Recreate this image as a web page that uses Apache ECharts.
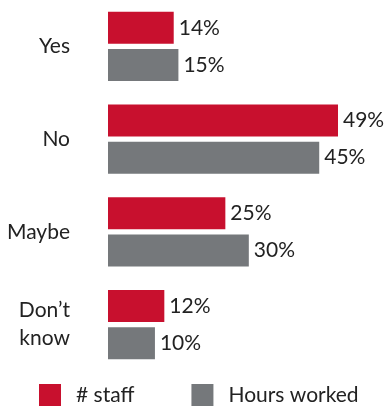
<!DOCTYPE html>
<html>
<head>
<meta charset="utf-8">
<style>
  html, body { margin: 0; padding: 0; background: #fff; }
  #chart { width: 386px; height: 406px; }
</style>
<script src="https://cdn.jsdelivr.net/npm/echarts@6/dist/echarts.min.js"></script>
</head>
<body>
<div id="chart"></div>
<script>
// Survey answers and shares (percent)
const categories = ['Yes', 'No', 'Maybe', 'Don\u2019t\nknow'];
const staffShare = [14, 49, 25, 12];
const hoursShare = [15, 45, 30, 10];
const seriesNames = ['# staff', 'Hours worked'];

const RED = '#c8102e';
const GREY = '#75787b';
const TEXT = '#222222';
const FONT = 'Lato, "Open Sans", sans-serif';

const chart = echarts.init(document.getElementById('chart'), null, { renderer: 'canvas' });

const labelStyle = {
  show: true,
  position: 'right',
  distance: 5,
  formatter: p => p.value + '%',
  color: TEXT,
  fontFamily: FONT,
  fontSize: 21
};

chart.setOption({
  animation: false,
  backgroundColor: '#fff',
  grid: { left: 108, top: -2, width: 234.7, height: 373, containLabel: false },
  xAxis: {
    type: 'value',
    min: 0,
    max: 50,
    show: false
  },
  yAxis: {
    type: 'category',
    data: categories,
    inverse: true,
    axisLine: { show: false },
    axisTick: { show: false },
    splitLine: { show: false },
    axisLabel: {
      margin: 38,
      color: TEXT,
      fontFamily: FONT,
      fontSize: 21,
      lineHeight: 28,
      align: 'right'
    }
  },
  legend: {
    left: 39,
    top: 384,
    padding: 0,
    itemWidth: 22,
    itemHeight: 22,
    itemGap: 57,
    icon: 'rect',
    data: seriesNames,
    textStyle: { color: TEXT, fontFamily: FONT, fontSize: 21, padding: [0, 0, 0, 10], lineHeight: 22 }
  },
  series: [
    {
      name: seriesNames[0],
      type: 'bar',
      data: staffShare,
      barWidth: 32,
      barGap: '16%',
      itemStyle: { color: RED },
      label: labelStyle
    },
    {
      name: seriesNames[1],
      type: 'bar',
      data: hoursShare,
      barWidth: 32,
      itemStyle: { color: GREY },
      label: labelStyle
    }
  ]
});
</script>
</body>
</html>
